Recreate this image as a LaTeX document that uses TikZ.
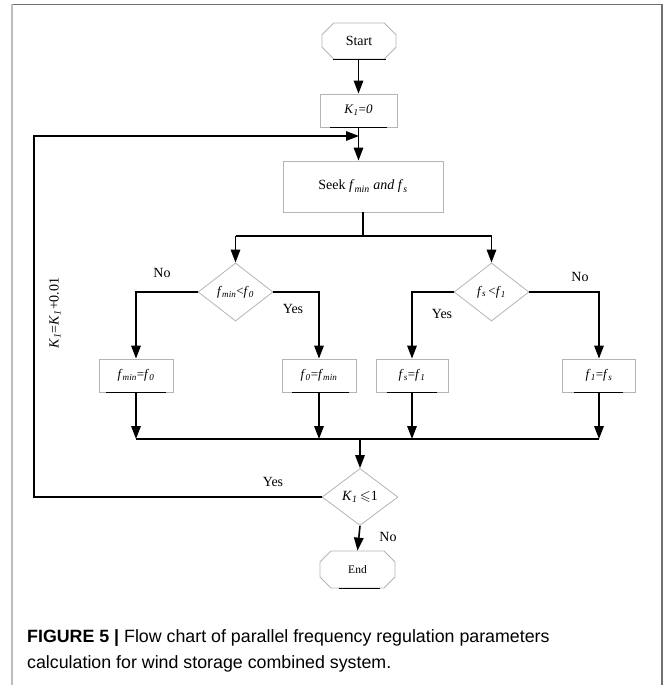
\documentclass[tikz,border=0pt]{standalone}
\usepackage{fontspec}
\usepackage{amssymb}
\setmainfont{Liberation Serif}
\setsansfont{Liberation Sans}
\usetikzlibrary{shapes.geometric,shapes.misc,arrows.meta,calc}
\definecolor{boxgray}{HTML}{B4B4B4}
\definecolor{framedark}{HTML}{707070}
\definecolor{framelight}{HTML}{BDBDBD}
\newcommand\fs[2]{\textit{#1}\textsubscript{\textit{#2}}}
\begin{document}
\begin{tikzpicture}[x=1pt,y=-1pt,
  procbox/.style={draw=boxgray,line width=0.8pt,rectangle,minimum height=33pt,inner sep=0pt,font=\fontsize{13}{15}\selectfont},
  termbox/.style={draw=boxgray,line width=0.8pt,chamfered rectangle,chamfered rectangle xsep=7pt,chamfered rectangle ysep=7pt,minimum width=74pt,minimum height=36pt,inner sep=0pt},
  decide/.style={draw=boxgray,line width=0.8pt,diamond,shape aspect=1.3,minimum width=75pt,minimum height=58pt,inner sep=0pt,font=\fontsize{13}{15}\selectfont},
  arr/.style={line width=1.6pt,-{Triangle[length=13pt,width=9.5pt]}},
  ln/.style={line width=1.6pt},
  shade/.style={line width=1.3pt,black},
  lab/.style={font=\fontsize{14}{16}\selectfont,inner sep=0pt},
  captext/.style={anchor=west,inner sep=0pt,font=\sffamily\fontsize{17.8}{20}\selectfont}
]
\useasboundingbox (0,0) rectangle (665,685);
% frame
\draw[framedark,line width=1.3pt] (12,4.5) -- (662,4.5) -- (662,685);
\draw[framelight,line width=2.2pt] (12,4.5) -- (12,685);

% nodes
\node[termbox,font=\fontsize{14}{16}\selectfont] (start) at (359,41) {Start};
\node[procbox,minimum width=77pt] (k0) at (358.5,110.5) {\fs{K}{1}=\textit{0}};
\node[procbox,minimum width=160pt,minimum height=51pt,font=\fontsize{14}{16}\selectfont] (seek) at (363,186.5) {Seek \fs{f}{min} \textit{and} \fs{f}{s}};
\node[decide] (dl) at (235.5,292) {\fs{f}{min}<\fs{f}{0}};
\node[decide] (dr) at (491.5,292) {\fs{f}{s}\,<\fs{f}{1}};
\node[procbox,minimum width=74pt] (b1) at (136,375.5) {\fs{f}{min}=\fs{f}{0}};
\node[procbox,minimum width=74pt] (b2) at (319,375.5) {\fs{f}{0}=\fs{f}{min}};
\node[procbox,minimum width=72pt] (b3) at (412,375.5) {\fs{f}{s}=\fs{f}{1}};
\node[procbox,minimum width=73pt] (b4) at (599,375.5) {\fs{f}{1}=\fs{f}{s}};
\node[decide,minimum width=76pt,minimum height=57pt,font=\fontsize{14}{16}\selectfont] (kd) at (360,497) {\fs{K}{1}\,$\leqslant$1};
\node[termbox,minimum width=75pt,minimum height=37pt,font=\fontsize{11.5}{13}\selectfont] (end) at (357.5,569.5) {End};

% coordinates
\coordinate (split) at (363,236);
\coordinate (splitL) at (235.5,236);
\coordinate (splitR) at (491.5,236);
\coordinate (mergeL) at (136,439);
\coordinate (mergeR) at (599,439);
\coordinate (mergeC) at (360,439);
\coordinate (loopB) at (34,497);
\coordinate (loopT) at (34,136);
\coordinate (join) at (359,136);

% shadow lines under boxes
\draw[shade] ([xshift=-26.5pt]start.south) -- ([xshift=26.5pt]start.south);
\draw[shade] ([xshift=-28.5pt]k0.south) -- ([xshift=28.5pt]k0.south);
\draw[shade] ([xshift=-30pt]b1.south) -- ([xshift=30pt]b1.south);
\draw[shade] ([xshift=-27pt]b2.south) -- ([xshift=30pt]b2.south);
\draw[shade] ([xshift=-25pt]b3.south) -- ([xshift=25pt]b3.south);
\draw[shade] ([xshift=-25pt]b4.south) -- ([xshift=24pt]b4.south);
\draw[shade] ([xshift=-19pt]end.south) -- ([xshift=22pt]end.south);

% connectors
\draw[arr] (start.south) -- (k0.south |- start.south) -- (k0.north);
\draw[arr] (k0.south) -- (k0.south |- seek.north);
\draw[arr] (kd.west) -- (loopB) -- (loopT) -- (join);
\draw[ln] (seek.south) -- (split);
\draw[ln] (splitL) -- (splitR);
\draw[arr] (splitL) -- (dl.north);
\draw[arr] (splitR) -- (dr.north);
\draw[arr] (dl.west) -| (b1.north);
\draw[arr] (dl.east) -| (b2.north);
\draw[arr] (dr.west) -| (b3.north);
\draw[arr] (dr.east) -| (b4.north);
\draw[arr] (b1.south) -- (b1.south |- mergeL);
\draw[arr] (b2.south) -- (b2.south |- mergeL);
\draw[arr] (b3.south) -- (b3.south |- mergeL);
\draw[arr] (b4.south) -- (b4.south |- mergeL);
\draw[ln] (mergeL) -- (mergeR);
\draw[arr] (mergeC) -- (kd.north);
\draw[arr] (kd.south) -- (end.north);

% labels
\node[lab] (no1) at (162,273) {No};
\node[lab] (yes1) at (293,309) {Yes};
\node[lab] (yes2) at (442,314) {Yes};
\node[lab] (no2) at (580,277) {No};
\node[lab] (yes3) at (273,482) {Yes};
\node[lab] (no3) at (388,537) {No};
\node[lab,rotate=90] (inc) at (55,313) {\fs{K}{1}=\fs{K}{1}+0.01};

% caption
\node[captext] (cap1) at (27,638) {\textbf{FIGURE 5 |} Flow chart of parallel frequency regulation parameters};
\node[captext] (cap2) at (27,664) {calculation for wind storage combined system.};
\end{tikzpicture}
\end{document}
